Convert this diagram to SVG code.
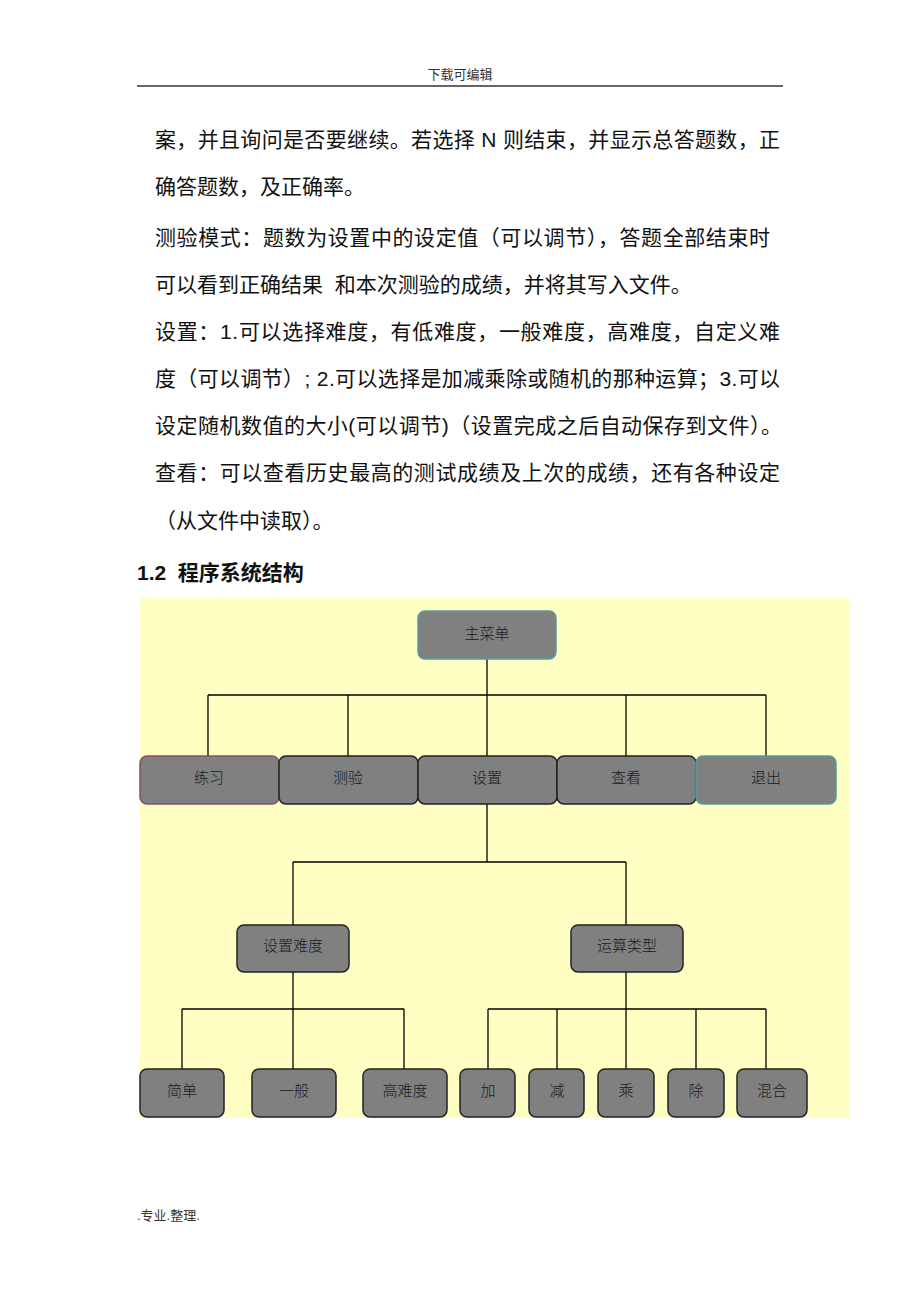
<svg xmlns="http://www.w3.org/2000/svg" width="920" height="1302" viewBox="0 0 920 1302">
<style>
.body{font-family:"Liberation Sans","Noto Sans CJK SC",sans-serif;font-size:21px;fill:#111}
.hdr{font-family:"Liberation Sans","Noto Sans CJK SC",sans-serif;font-size:13px;fill:#333}
.h2{font-family:"Liberation Sans","Noto Sans CJK SC",sans-serif;font-size:21px;font-weight:bold;fill:#111}
.box{fill:#808080;stroke:#222;stroke-width:1.5}
.teal{stroke:#4f9e9e}
.pink{stroke:#8a4f66}
.lbl{font-family:"Noto Sans CJK SC",sans-serif;font-size:15px;fill:#1a1a1a;text-anchor:middle;dominant-baseline:central;font-weight:300}
.conn line{stroke:#000;stroke-width:1.3}
</style>
<rect width="920" height="1302" fill="#fff"/>
<text class="hdr" x="460" y="79" text-anchor="middle">下载可编辑</text>
<line x1="137" y1="86" x2="783" y2="86" stroke="#333" stroke-width="1.5"/>
<text class="body" x="155" y="147" textLength="625" lengthAdjust="spacing">案，并且询问是否要继续。若选择 N 则结束，并显示总答题数，正</text>
<text class="body" x="155" y="194">确答题数，及正确率。</text>
<text class="body" x="155" y="245" textLength="615" lengthAdjust="spacing">测验模式：题数为设置中的设定值（可以调节），答题全部结束时</text>
<text class="body" x="155" y="292">可以看到正确结果&#160; 和本次测验的成绩，并将其写入文件。</text>
<text class="body" x="155" y="339" textLength="625" lengthAdjust="spacing">设置：1.可以选择难度，有低难度，一般难度，高难度，自定义难</text>
<text class="body" x="155" y="386" textLength="625" lengthAdjust="spacing">度（可以调节）; 2.可以选择是加减乘除或随机的那种运算；3.可以</text>
<text class="body" x="155" y="433" textLength="627" lengthAdjust="spacing">设定随机数值的大小(可以调节)（设置完成之后自动保存到文件）。</text>
<text class="body" x="155" y="480" textLength="625" lengthAdjust="spacing">查看：可以查看历史最高的测试成绩及上次的成绩，还有各种设定</text>
<text class="body" x="155" y="528">（从文件中读取）。</text>
<text class="h2" x="137" y="580">1.2&#160; 程序系统结构</text>
<rect x="140" y="598" width="709" height="520" fill="#ffffc4"/>
<g class="conn">
<line x1="487" y1="659" x2="487" y2="695"/>
<line x1="208" y1="695" x2="766" y2="695"/>
<line x1="208" y1="695" x2="208" y2="756"/>
<line x1="348" y1="695" x2="348" y2="756"/>
<line x1="487" y1="695" x2="487" y2="756"/>
<line x1="626" y1="695" x2="626" y2="756"/>
<line x1="766" y1="695" x2="766" y2="756"/>
<line x1="487" y1="804" x2="487" y2="862"/>
<line x1="293" y1="862" x2="626" y2="862"/>
<line x1="293" y1="862" x2="293" y2="925"/>
<line x1="626" y1="862" x2="626" y2="925"/>
<line x1="293" y1="972" x2="293" y2="1009"/>
<line x1="182" y1="1009" x2="404" y2="1009"/>
<line x1="182" y1="1009" x2="182" y2="1069"/>
<line x1="293" y1="1009" x2="293" y2="1069"/>
<line x1="404" y1="1009" x2="404" y2="1069"/>
<line x1="626" y1="972" x2="626" y2="1009"/>
<line x1="488" y1="1009" x2="766" y2="1009"/>
<line x1="488" y1="1009" x2="488" y2="1069"/>
<line x1="557" y1="1009" x2="557" y2="1069"/>
<line x1="626" y1="1009" x2="626" y2="1069"/>
<line x1="696" y1="1009" x2="696" y2="1069"/>
<line x1="766" y1="1009" x2="766" y2="1069"/>
</g>
<g id="n-main"><rect class="box teal" x="418" y="611" width="138" height="48" rx="7"/><text class="lbl" x="487" y="632">主菜单</text></g>
<g id="n-lianxi"><rect class="box pink" x="140" y="756" width="139" height="48" rx="7"/><text class="lbl" x="209" y="776">练习</text></g>
<g id="n-ceyan"><rect class="box" x="279" y="756" width="139" height="48" rx="7"/><text class="lbl" x="348" y="776">测验</text></g>
<g id="n-shezhi"><rect class="box" x="418" y="756" width="139" height="48" rx="7"/><text class="lbl" x="487" y="776">设置</text></g>
<g id="n-chakan"><rect class="box" x="557" y="756" width="139" height="48" rx="7"/><text class="lbl" x="626" y="776">查看</text></g>
<g id="n-tuichu"><rect class="box teal" x="696" y="756" width="140" height="48" rx="7"/><text class="lbl" x="766" y="776">退出</text></g>
<g id="n-nandu"><rect class="box" x="237" y="925" width="112" height="47" rx="7"/><text class="lbl" x="293" y="944">设置难度</text></g>
<g id="n-yunsuan"><rect class="box" x="571" y="925" width="112" height="47" rx="7"/><text class="lbl" x="627" y="944">运算类型</text></g>
<g id="n-jiandan"><rect class="box" x="140" y="1069" width="84" height="48" rx="7"/><text class="lbl" x="182" y="1089">简单</text></g>
<g id="n-yiban"><rect class="box" x="252" y="1069" width="84" height="48" rx="7"/><text class="lbl" x="294" y="1089">一般</text></g>
<g id="n-gao"><rect class="box" x="363" y="1069" width="84" height="48" rx="7"/><text class="lbl" x="405" y="1089">高难度</text></g>
<g id="n-jia"><rect class="box" x="460" y="1069" width="55" height="48" rx="7"/><text class="lbl" x="488" y="1089">加</text></g>
<g id="n-jian"><rect class="box" x="529" y="1069" width="55" height="48" rx="7"/><text class="lbl" x="557" y="1089">减</text></g>
<g id="n-cheng"><rect class="box" x="598" y="1069" width="56" height="48" rx="7"/><text class="lbl" x="626" y="1089">乘</text></g>
<g id="n-chu"><rect class="box" x="668" y="1069" width="56" height="48" rx="7"/><text class="lbl" x="696" y="1089">除</text></g>
<g id="n-hunhe"><rect class="box" x="737" y="1069" width="70" height="48" rx="7"/><text class="lbl" x="772" y="1089">混合</text></g>
<text class="hdr" x="137" y="1220">.专业.整理.</text>
</svg>
